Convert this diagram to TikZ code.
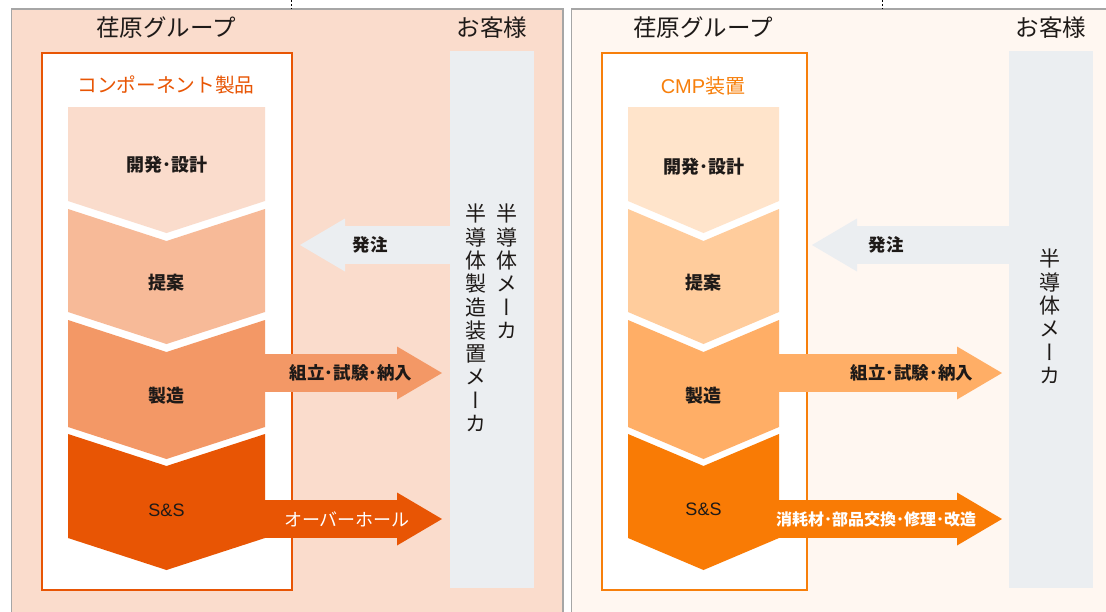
\documentclass[tikz,border=0pt]{standalone}
\usepackage{fontspec}
\setmainfont{Noto Sans CJK JP}
\newfontfamily\latinsans{Liberation Sans}
\newfontfamily\jpvert{Noto Sans CJK JP}[RawFeature=+vert]
\usetikzlibrary{positioning,calc,arrows.meta}

\definecolor{txt}{HTML}{1E1A18}
\definecolor{custbar}{HTML}{EBEEF1}
\definecolor{panelA}{HTML}{FADCCC}
\definecolor{panelB}{HTML}{FFF7F1}
\definecolor{frameA}{HTML}{E85504}
\definecolor{frameB}{HTML}{F77F0B}
\definecolor{stA1}{HTML}{FADCCC}
\definecolor{stA2}{HTML}{F7BA98}
\definecolor{stA3}{HTML}{F39866}
\definecolor{stA4}{HTML}{E85504}
\definecolor{stB1}{HTML}{FFE4CB}
\definecolor{stB2}{HTML}{FFCC9C}
\definecolor{stB3}{HTML}{FFAE66}
\definecolor{stB4}{HTML}{F97B05}

\begin{document}
\begin{tikzpicture}[x=1pt,y=-1pt,
  panel/.style={draw=gray!70, line width=1.2pt},
  grouptitle/.style={font=\fontsize{23.5}{23.5}\selectfont, text=txt},
  groupframe/.style={line width=2.4pt, fill=white, inner sep=0pt, anchor=north west,
                     minimum width=#1, minimum height=537pt},
  barbox/.style={fill=custbar, inner sep=0pt, anchor=north west,
                 minimum width=84pt, minimum height=537pt},
  stagelabel/.style={font=\fontsize{18}{18}\selectfont\bfseries, text=txt},
  flowlabel/.style={font=\fontsize{17.5}{17.5}\selectfont\bfseries, text=txt},
  vlabel/.style={font=\jpvert\fontsize{21}{23.3}\selectfont, align=center,
                 text=txt, inner sep=0pt, anchor=north},
  flow/.style={line width=38pt, -{Triangle[length=45pt,width=53pt,line width=0pt]}},
]
\useasboundingbox (0,0) rectangle (1106,611);
\clip (0,0) rectangle (1106,611);

% panels
\filldraw[panel, fill=panelA] (11.5,9) rectangle (563,625);
\filldraw[panel, fill=panelB] (571.5,9) rectangle (1120,625);
\draw[dashed, dash pattern=on 2pt off 2pt, thin] (291,0) -- (291,9);
\draw[dashed, dash pattern=on 2pt off 2pt, thin] (882,0) -- (882,9);

% left: component products
\node[grouptitle] (grpL) at (166,28) {荏原グループ};
\node[grouptitle] (custL) at (492,28) {お客様};
\node[groupframe=250pt, draw=frameA] (frameL) at (41,52) {};
\node[font=\fontsize{19.7}{19.7}\selectfont, text=frameA] (prodL) at (166,85) {コンポーネント製品};
\node[barbox] (barL) at (450,51) {};

\foreach \t/\b/\d/\c in {107/201/0/stA1, 209/312/32/stA2, 320/427/32/stA3, 434/538/32/stA4}
  \fill[\c] (68,\t) -- (166.5,{\t+\d}) -- (265,\t) -- (265,\b) -- (166.5,{\b+32}) -- (68,\b) -- cycle;

\node[stagelabel] (devL) at (166.5,165) {開発･設計};
\node[stagelabel] (propL) at (166.5,283) {提案};
\node[stagelabel] (mfgL) at (166.5,396) {製造};
\node[stagelabel, font=\latinsans\fontsize{18}{18}\selectfont] (ssL) at (166.5,510) {S\&S};

\coordinate (ordTipL) at (300,245);
\coordinate (mfgEdgeL) at (265,373);
\coordinate (mfgTipL) at (442,373);
\coordinate (ssEdgeL) at (265,519);
\coordinate (ssTipL) at (442,519);
\draw[flow, custbar] (barL.west |- ordTipL) -- (ordTipL)
  node[flowlabel, pos=0.533] (ordL) {発注};
\draw[flow, stA3] (mfgEdgeL) -- (mfgTipL)
  node[flowlabel, pos=0.486] (asmL) {組立･試験･納入};
\draw[flow, stA4] (ssEdgeL) -- (ssTipL)
  node[flowlabel, pos=0.463, text=white, font=\fontsize{18}{18}\selectfont] (ohL) {オーバーホール};

\node[vlabel] (semiL) at (507,204) {半\\導\\体\\メ\\ー\\カ};
\node[vlabel] (equipL) at (476,204) {半\\導\\体\\製\\造\\装\\置\\メ\\ー\\カ};

% right: CMP equipment
\node[grouptitle] (grpR) at (703,28) {荏原グループ};
\node[grouptitle] (custR) at (1051,28) {お客様};
\node[groupframe=205pt, draw=frameB] (frameR) at (601,52) {};
\node[font=\fontsize{20}{20}\selectfont, text=frameB] (prodR) at (703,86) {{\latinsans CMP}装置};
\node[barbox] (barR) at (1009,51) {};

\foreach \t/\b/\d/\c in {107/201/0/stB1, 209/312/32/stB2, 320/427/32/stB3, 434/538/32/stB4}
  \fill[\c] (628,\t) -- (703.5,{\t+\d}) -- (779,\t) -- (779,\b) -- (703.5,{\b+32}) -- (628,\b) -- cycle;

\node[stagelabel] (devR) at (703.5,167) {開発･設計};
\node[stagelabel] (propR) at (703.5,283) {提案};
\node[stagelabel] (mfgR) at (703.5,396) {製造};
\node[stagelabel, font=\latinsans\fontsize{18}{18}\selectfont] (ssR) at (703.5,509) {S\&S};

\coordinate (ordTipR) at (812,245);
\coordinate (mfgEdgeR) at (779,373);
\coordinate (mfgTipR) at (1002,373);
\coordinate (ssEdgeR) at (779,519);
\coordinate (ssTipR) at (1002,519);
\draw[flow, custbar] (barR.west |- ordTipR) -- (ordTipR)
  node[flowlabel, pos=0.624] (ordR) {発注};
\draw[flow, stB3] (mfgEdgeR) -- (mfgTipR)
  node[flowlabel, pos=0.596] (asmR) {組立･試験･納入};
\draw[flow, stB4] (ssEdgeR) -- (ssTipR)
  node[flowlabel, pos=0.435, text=white, font=\fontsize{16}{16}\selectfont\bfseries] (svcR) {消耗材･部品交換･修理･改造};

\node[vlabel] (semiR) at (1050,249) {半\\導\\体\\メ\\ー\\カ};
\end{tikzpicture}
\end{document}
